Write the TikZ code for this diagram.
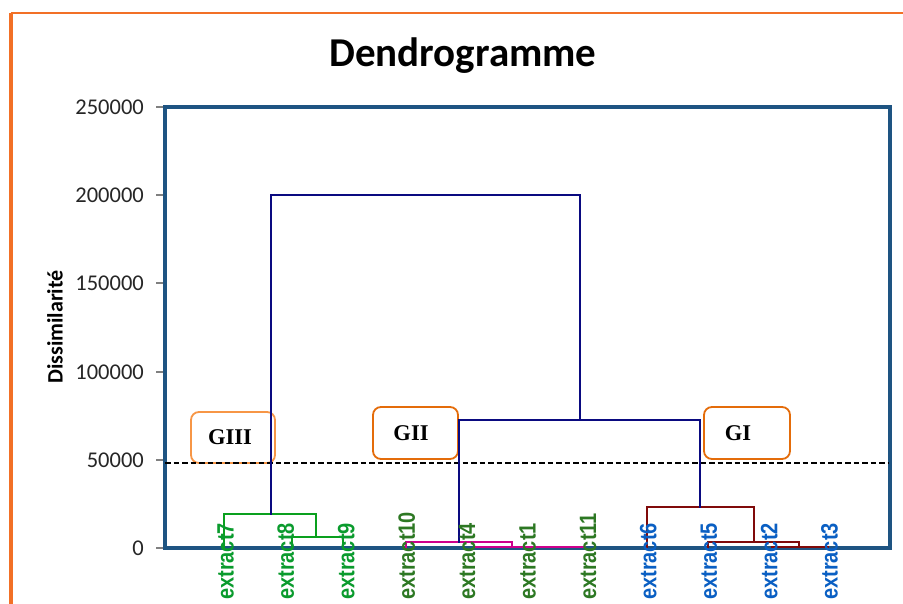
\documentclass[tikz,border=0pt]{standalone}
\usepackage{fontspec}
\setmainfont{Liberation Sans}
\newfontfamily\calibrifont{Carlito}
\newfontfamily\timesfont{Liberation Serif}
\definecolor{orangeframe}{RGB}{242,112,38}
\definecolor{plotblue}{RGB}{30,84,130}
\definecolor{navyline}{RGB}{10,10,128}
\definecolor{greenline}{RGB}{10,160,30}
\definecolor{greenlab}{RGB}{10,155,45}
\definecolor{darkgreenlab}{RGB}{45,120,35}
\definecolor{bluelab}{RGB}{10,95,195}
\definecolor{magline}{RGB}{205,0,140}
\definecolor{redline}{RGB}{128,10,10}
\definecolor{boxorange}{RGB}{228,108,10}
\definecolor{boxorangelight}{RGB}{247,150,70}
\newcommand{\leaftxt}[1]{\scalebox{1}[1.18]{#1}}
\begin{document}
\begin{tikzpicture}[x=1pt,y=-1pt,
  dendro/.style={line width=2.6pt, line cap=rect},
  leaflab/.style={rotate=90, anchor=base west, inner sep=0pt, font=\bfseries\fontsize{20}{22}\selectfont},
  ylab/.style={anchor=east, inner sep=0pt, font=\calibrifont\fontsize{22.5}{24}\selectfont, text=black!85},
  grpbox/.style={draw=boxorange, line width=1.8pt, rounded corners=8pt, fill=white, inner sep=0pt,
     font=\timesfont\bfseries\fontsize{22.5}{22}\selectfont},
  tickmark/.style={draw=gray, line width=1.2pt}]
\useasboundingbox (0,0) rectangle (903,604);
\fill[white] (0,0) rectangle (903,604);
% orange outer frame
\coordinate (ofb) at (11,604);
\coordinate (oftl) at (11,13);
\coordinate (oftr) at (903,13);
\draw[orangeframe, line width=4pt] (ofb) -- (oftl);
\draw[orangeframe, line width=2.8pt] (oftl) -- (oftr);
% title
\node[font=\calibrifont\bfseries\fontsize{41}{42}\selectfont, anchor=base, inner sep=0pt] (title) at (463,67) {Dendrogramme};
% plot frame
\coordinate (pbl) at (165,548);
\coordinate (ptr) at (890,107);
\draw[plotblue, line width=3.8pt] (pbl) rectangle (ptr);
% ticks and y labels
\foreach \v/\yy in {0/548,50000/460,100000/372,150000/283,200000/195,250000/107}{
  \coordinate (ta\v) at (156,\yy);
  \coordinate (tb\v) at (163,\yy);
  \draw[tickmark] (ta\v) -- (tb\v);
  \node[ylab] (yl\v) at (144,\yy) {\v};
}
\node[rotate=90, font=\calibrifont\bfseries\fontsize{22}{24}\selectfont, inner sep=0pt] (ytitle) at (55,327) {Dissimilarité};
% group boxes
\node[grpbox, draw=boxorangelight, minimum width=84pt, minimum height=51pt] (boxIII) at (233,437.5) {\hspace*{-6pt}GIII};
\node[grpbox, minimum width=85pt, minimum height=52pt] (boxII) at (415.5,433) {\hspace*{-9pt}GII};
\node[grpbox, minimum width=86pt, minimum height=52pt] (boxI) at (747,433) {\hspace*{-18pt}GI};
% dashed cut line
\coordinate (cutl) at (165,463);
\coordinate (cutr) at (888,463);
\draw[black, line width=2.6pt, dash pattern=on 5.5pt off 3pt] (cutl) -- (cutr);
% leaves
\coordinate (e7) at (224,548);
\coordinate (e8) at (292,548);
\coordinate (e9) at (343,548);
\coordinate (e10) at (406,548);
\coordinate (e6) at (647,548);
\coordinate (e5) at (708,548);
% junctions
\coordinate (n89) at (316,537);
\coordinate (n789) at (271,514);
\coordinate (root) at (425,195);
\coordinate (n12) at (580,420);
\coordinate (gII) at (459,542);
\coordinate (gI) at (700,507);
\coordinate (m2) at (512,547);
\coordinate (m4) at (475,547);
\coordinate (m11) at (585,547);
\coordinate (r2) at (754,542);
\coordinate (r3) at (799,547);
\coordinate (r2b) at (772,547);
\coordinate (r3b) at (828,547);
% dendrogram
\draw[dendro, greenline] (e8) |- (n89) -| (e9);
\draw[dendro, greenline] (e7) |- (n789) -| (n89);
\draw[dendro, magline] (e10) |- (gII) -| (m2);
\draw[dendro, magline] (m4) -- (m11);
\draw[dendro, redline] (e6) |- (gI) -| (r2);
\draw[dendro, redline] (e5) |- (r2) -| (r3);
\draw[dendro, redline] (r2b) -- (r3b);
\draw[dendro, navyline] (n789) |- (root) -| (n12);
\draw[dendro, navyline] (gII) |- (n12) -| (gI);
% leaf labels
\node[leaflab, text=greenlab] (l7) at (233.5,600) {\leaftxt{extract7}};
\node[leaflab, text=greenlab] (l8) at (293.9,600) {\leaftxt{extract8}};
\node[leaflab, text=greenlab] (l9) at (354.3,600) {\leaftxt{extract9}};
\node[leaflab, text=darkgreenlab] (l10) at (414.8,600) {\leaftxt{extract10}};
\node[leaflab, text=darkgreenlab] (l4) at (475.2,600) {\leaftxt{extract4}};
\node[leaflab, text=darkgreenlab] (l1) at (535.6,600) {\leaftxt{extract1}};
\node[leaflab, text=darkgreenlab] (l11) at (596.0,600) {\leaftxt{extract11}};
\node[leaflab, text=bluelab] (l6) at (656.4,600) {\leaftxt{extract6}};
\node[leaflab, text=bluelab] (l5) at (716.9,600) {\leaftxt{extract5}};
\node[leaflab, text=bluelab] (l2) at (777.3,600) {\leaftxt{extract2}};
\node[leaflab, text=bluelab] (l3) at (837.7,600) {\leaftxt{extract3}};
\end{tikzpicture}
\end{document}
